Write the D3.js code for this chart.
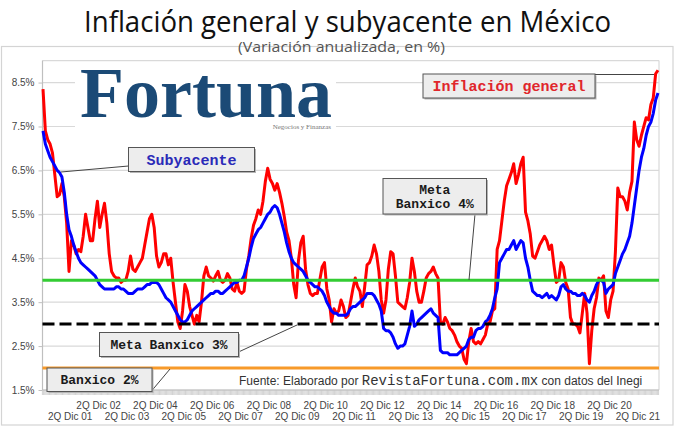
<!DOCTYPE html>
<html><head><meta charset="utf-8">
<script src="https://cdn.jsdelivr.net/npm/d3@7"></script>
<style>body{margin:0;background:#fff}svg{display:block}</style>
</head><body><svg id="c" width="696" height="431"></svg>
<script>
// ---- data ----
const years = ["01","02","03","04","05","06","07","08","09","10","11","12","13","14","15","16","17","18","19","20","21","22"];
const months = ["Ene","Feb","Mar","Abr","May","Jun","Jul","Ago","Sep","Oct","Nov","Dic"];
const lastMonthCount = 9; // 2022 runs through Sep
const tickLabels = ["2Q Dic 01","2Q Dic 02","2Q Dic 03","2Q Dic 04","2Q Dic 05","2Q Dic 06","2Q Dic 07","2Q Dic 08","2Q Dic 09","2Q Dic 10","2Q Dic 11","2Q Dic 12","2Q Dic 13","2Q Dic 14","2Q Dic 15","2Q Dic 16","2Q Dic 17","2Q Dic 18","2Q Dic 19","2Q Dic 20","2Q Dic 21"];
const yTicks = [1.5,2.5,3.5,4.5,5.5,6.5,7.5,8.5];
const yTickLabels = ["1.5%","2.5%","3.5%","4.5%","5.5%","6.5%","7.5%","8.5%"];

const general = [
 8.35,7.4,7.2,7.1,6.9,6.4,5.9,5.95,6.2,5.9,5.3,4.2,
 4.9,4.8,4.6,4.7,4.65,5.0,5.5,5.2,4.9,4.9,5.4,5.8,
 5.2,5.5,5.75,5.3,4.6,4.2,4.1,4.05,4.05,3.95,4.0,4.0,
 4.2,4.55,4.25,4.2,4.3,4.4,4.5,4.8,5.1,5.4,5.5,5.2,
 4.55,4.3,4.4,4.6,4.6,4.35,4.5,3.95,3.5,3.05,2.9,3.3,
 3.9,3.75,3.4,3.2,3.0,3.2,3.05,3.5,4.1,4.3,4.1,4.05,
 3.98,4.1,4.2,4.0,3.95,4.0,4.15,4.05,3.8,3.75,3.95,3.75,
 3.7,3.75,4.25,4.55,4.95,5.25,5.4,5.6,5.5,5.8,6.25,6.55,
 6.3,6.2,6.05,6.2,6.0,5.75,5.45,5.1,4.9,4.5,3.9,3.6,
 4.45,4.85,5.0,4.25,3.9,3.7,3.65,3.7,3.7,4.0,4.3,4.4,
 3.8,3.55,3.05,3.35,3.25,3.3,3.55,3.4,3.15,3.2,3.5,3.8,
 4.05,3.85,3.75,3.4,3.85,4.35,4.4,4.55,4.8,4.6,4.2,3.55,
 3.25,3.55,4.25,4.65,4.6,4.1,3.5,3.45,3.4,3.35,3.6,3.95,
 4.5,4.2,3.75,3.5,3.5,3.75,4.05,4.15,4.2,4.3,4.15,4.05,
 3.05,3.0,3.15,3.05,2.9,2.85,2.75,2.6,2.5,2.45,2.2,2.1,
 2.6,2.9,2.6,2.55,2.6,2.55,2.65,2.75,3.0,3.05,3.3,3.35,
 4.7,4.9,5.35,5.8,6.15,6.3,6.45,6.65,6.2,6.4,6.65,6.8,
 5.55,5.35,5.05,4.55,4.5,4.65,4.8,4.9,5.0,4.9,4.7,4.8,
 4.35,3.95,4.0,4.4,4.3,3.95,3.8,3.15,3.0,3.0,2.95,2.8,
 3.25,3.7,3.25,2.1,2.85,3.35,3.6,4.05,4.0,4.1,3.3,3.15,
 3.55,3.75,4.65,6.1,5.9,5.9,5.8,5.6,6.0,6.25,7.6,7.2,
 7.05,7.3,7.5,7.7,7.65,8.0,8.15,8.7,8.78
];
const subyacente = [
 7.4,7.1,6.95,6.8,6.7,6.6,6.5,6.45,6.35,6.0,5.5,5.15,
 5.0,4.8,4.65,4.5,4.4,4.35,4.3,4.25,4.2,4.15,4.1,4.0,
 3.9,3.85,3.8,3.8,3.8,3.8,3.8,3.85,3.85,3.8,3.8,3.75,
 3.7,3.7,3.7,3.75,3.8,3.8,3.8,3.85,3.9,3.9,3.95,3.95,
 3.95,3.9,3.8,3.7,3.6,3.55,3.5,3.4,3.3,3.2,3.1,3.05,
 3.05,3.1,3.2,3.3,3.35,3.4,3.45,3.5,3.55,3.6,3.65,3.7,
 3.7,3.75,3.75,3.7,3.7,3.75,3.8,3.85,3.9,3.95,3.95,4.0,
 4.0,4.1,4.3,4.5,4.75,4.95,5.05,5.15,5.2,5.3,5.4,5.5,
 5.55,5.65,5.7,5.65,5.5,5.3,5.1,4.85,4.65,4.5,4.4,4.35,
 4.3,4.25,4.2,4.1,4.0,3.95,3.9,3.85,3.85,3.8,3.75,3.65,
 3.5,3.4,3.3,3.25,3.25,3.2,3.2,3.2,3.2,3.25,3.35,3.4,
 3.4,3.45,3.5,3.55,3.6,3.7,3.7,3.7,3.65,3.55,3.45,3.3,
 2.9,2.85,2.85,2.8,2.7,2.55,2.45,2.5,2.5,2.55,2.75,2.95,
 3.3,2.95,3.0,3.1,3.15,3.2,3.25,3.3,3.35,3.25,3.2,3.15,
 2.4,2.35,2.35,2.35,2.3,2.3,2.3,2.3,2.35,2.4,2.45,2.5,
 2.65,2.7,2.7,2.85,2.9,2.9,2.95,3.05,3.1,3.2,3.35,3.6,
 3.8,4.4,4.5,4.6,4.7,4.7,4.8,4.9,4.7,4.8,4.9,4.85,
 4.5,4.3,4.0,3.75,3.7,3.65,3.65,3.6,3.65,3.7,3.6,3.65,
 3.6,3.55,3.65,3.85,3.9,3.8,3.75,3.75,3.7,3.7,3.65,3.65,
 3.7,3.65,3.55,3.5,3.65,3.75,3.9,4.0,4.0,3.95,3.7,3.8,
 3.85,3.9,4.15,4.3,4.45,4.6,4.7,4.85,5.0,5.3,5.7,6.1,
 6.5,6.8,7.0,7.3,7.5,7.6,7.8,8.1,8.26
];
const metaBanxico = [4, 3, 2];

// ---- categories ----
const categories = [];
years.forEach((yy, i) => {
  const n = i === years.length - 1 ? lastMonthCount : 12;
  for (let m = 0; m < n; m++) categories.push(months[m] + " " + yy);
});

// ---- layout ----
const svg = d3.select("#c");
const pL = 42.5, pR = 659, pT = 60.6, pB = 390;
const x = d3.scalePoint().domain(categories).range([pL + 0.5, pR - 1]);
const half = x.step() / 2;
const y = d3.scaleLinear().domain([1.5, 9]).range([pB, pT]);

// outer frame
svg.append("rect").attr("x", 1.5).attr("y", 46.5).attr("width", 671.5).attr("height", 378.5)
  .attr("fill", "#fff").attr("stroke", "#d4d4d4").attr("stroke-width", 1.2);

// title
svg.append("text").attr("x", 84).attr("y", 31.5).attr("textLength", 527).attr("lengthAdjust", "spacingAndGlyphs")
  .attr("font-family", "Open Sans, Noto Sans, sans-serif").attr("font-size", 29).attr("fill", "#111")
  .text("Inflación general y subyacente en México");
svg.append("text").attr("x", 238).attr("y", 52).attr("textLength", 207).attr("lengthAdjust", "spacingAndGlyphs")
  .attr("font-family", "Open Sans, Noto Sans, sans-serif").attr("font-size", 14).attr("fill", "#555")
  .text("(Variación anualizada, en %)");

// gridlines
svg.append("g").selectAll("line").data(yTicks.concat([9])).join("line")
  .attr("x1", pL).attr("x2", pR).attr("y1", d => y(d)).attr("y2", d => y(d))
  .attr("stroke", "#d9d9d9").attr("stroke-width", 1.2);
svg.append("line").attr("x1", pR).attr("x2", pR).attr("y1", pT).attr("y2", pB)
  .attr("stroke", "#d9d9d9").attr("stroke-width", 1.2);

// logo (white backing over gridlines)
svg.append("rect").attr("x", 75).attr("y", 62).attr("width", 261).attr("height", 70).attr("fill", "#fff");
svg.append("text").attr("x", 80).attr("y", 117).attr("textLength", 252).attr("lengthAdjust", "spacingAndGlyphs")
  .attr("font-family", "Liberation Serif, DejaVu Serif, serif").attr("font-weight", "bold")
  .attr("font-size", 72).attr("fill", "#1b4a76").text("Fortuna");
svg.append("text").attr("x", 331).attr("y", 129).attr("text-anchor", "end")
  .attr("font-family", "Liberation Serif, serif").attr("font-size", 7).attr("fill", "#777")
  .text("Negocios y Finanzas");

// y axis
svg.append("line").attr("x1", pL).attr("x2", pL).attr("y1", pT).attr("y2", pB)
  .attr("stroke", "#bfbfbf").attr("stroke-width", 1.2);
const yAxis = d3.axisLeft(y).tickValues(yTicks).tickFormat((d, i) => yTickLabels[i]).tickSize(4).tickPadding(4);
const gy = svg.append("g").attr("transform", `translate(${pL},0)`).call(yAxis);
gy.select(".domain").remove();
gy.selectAll("line").attr("stroke", "#bfbfbf");
gy.selectAll("text").attr("font-family", "Liberation Sans, Arial, sans-serif").attr("font-size", 10)
  .attr("fill", "#444");

// x axis: minor ticks per quincena + labels
const quincenas = [];
categories.forEach(c => { quincenas.push(x(c) - half * 0.5); quincenas.push(x(c) + half * 0.5); });
svg.append("g").selectAll("line").data(quincenas).join("line")
  .attr("x1", d => d).attr("x2", d => d).attr("y1", pB).attr("y2", pB + 5)
  .attr("stroke", "#c8c8c8").attr("stroke-width", 0.8);
svg.append("line").attr("x1", pL).attr("x2", pR).attr("y1", pB).attr("y2", pB)
  .attr("stroke", "#bfbfbf").attr("stroke-width", 1.2);
svg.append("g").selectAll("text").data(tickLabels).join("text")
  .attr("x", (d, i) => x("Dic " + years[i]) + half)
  .attr("y", (d, i) => i % 2 === 1 ? 408.5 : 420)
  .attr("text-anchor", "middle").attr("font-family", "Liberation Sans, Arial, sans-serif")
  .attr("font-size", 10).attr("fill", "#444").text(d => d);

// series
const line = d3.line().x((d, i) => x(categories[i])).y(d => y(d));
svg.append("path").datum(general).attr("d", line).attr("fill", "none")
  .attr("stroke", "#ff0000").attr("stroke-width", 3).attr("stroke-linejoin", "round");
svg.append("path").datum(subyacente).attr("d", line).attr("fill", "none")
  .attr("stroke", "#0000ff").attr("stroke-width", 3).attr("stroke-linejoin", "round");

// meta lines
const metaStyles = [
  {c: "#33cc33", dash: null},
  {c: "#000000", dash: "12,5"},
  {c: "#f79a2a", dash: null}
];
svg.append("g").selectAll("line").data(metaBanxico).join("line")
  .attr("x1", pL).attr("x2", pR).attr("y1", d => y(d)).attr("y2", d => y(d))
  .attr("stroke", (d, i) => metaStyles[i].c).attr("stroke-width", 3)
  .attr("stroke-dasharray", (d, i) => metaStyles[i].dash);

// callouts
function callout(bx, by, bw, bh, lines, color, fs, leader) {
  const g = svg.append("g");
  g.append("polyline").attr("points", leader.map(p => p.join(",")).join(" "))
    .attr("fill", "none").attr("stroke", "#444").attr("stroke-width", 1);
  g.append("rect").attr("x", bx + 1.5).attr("y", by + 1.5).attr("width", bw).attr("height", bh).attr("fill", "#b5b5b5");
  g.append("rect").attr("x", bx).attr("y", by).attr("width", bw).attr("height", bh)
    .attr("fill", "#ededed").attr("stroke", "#555").attr("stroke-width", 1);
  const lh = fs * 1.05;
  const y0 = by + bh / 2 - (lines.length - 1) * lh / 2;
  lines.forEach((t, i) => {
    g.append("text").attr("x", bx + bw / 2).attr("y", y0 + i * lh).attr("dy", "0.35em")
      .attr("text-anchor", "middle").attr("font-family", "Liberation Mono, Courier New, monospace")
      .attr("font-weight", "bold").attr("font-size", fs).attr("fill", color).text(t);
  });
}
callout(423, 74, 172, 24, ["Inflación general"], "#e0262c", 15, [[562, 74.5], [654, 74.5]]);
callout(128.5, 147.5, 126, 24, ["Subyacente"], "#2a2ab8", 15, [[128.5, 166], [61, 172]]);
callout(383, 178.5, 103.5, 35.5, ["Meta", "Banxico 4%"], "#1a1a1a", 13, [[475, 214], [469, 280]]);
callout(99.5, 332.5, 139, 24, ["Meta Banxico 3%"], "#1a1a1a", 13, [[238.5, 352], [297, 325]]);
callout(47, 368, 105, 23.5, ["Banxico 2%"], "#1a1a1a", 13, [[151.5, 391], [170, 369]]);

// source
const src = svg.append("text").attr("x", 239).attr("y", 385).attr("fill", "#333");
src.append("tspan").attr("font-family", "Liberation Sans, Arial, sans-serif").attr("font-size", 12).text("Fuente: Elaborado por ");
src.append("tspan").attr("font-family", "Liberation Mono, Courier New, monospace").attr("font-size", 14).text("RevistaFortuna.com.mx");
src.append("tspan").attr("font-family", "Liberation Sans, Arial, sans-serif").attr("font-size", 12).text(" con datos del Inegi");
</script></body></html>
